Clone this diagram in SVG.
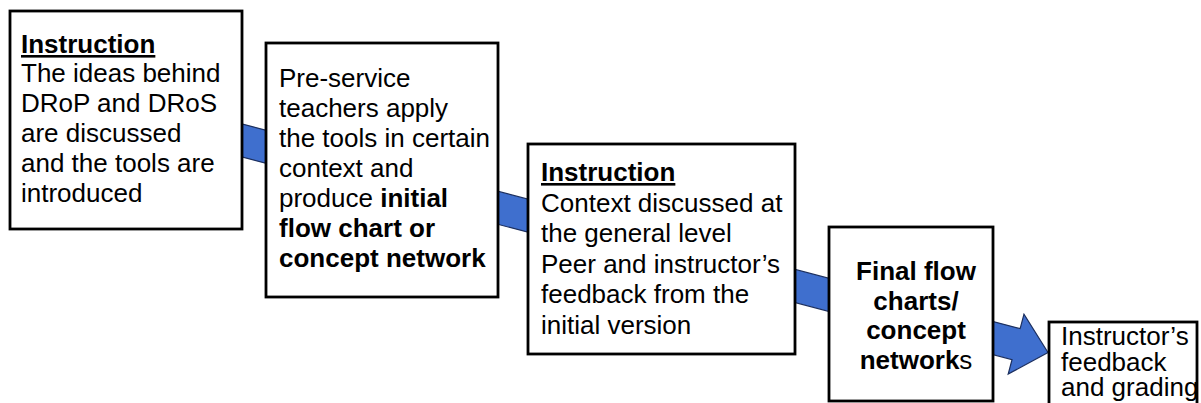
<svg xmlns="http://www.w3.org/2000/svg" width="1201" height="403" viewBox="0 0 1201 403">
<style>
.box{fill:#ffffff;stroke:#000000;stroke-width:2.8}
.t{font-family:"Liberation Sans",Arial,sans-serif;font-size:26px;fill:#000000}
.b{font-weight:bold}
.u{text-decoration:underline}
.arrow{fill:#3f6fce;stroke:#1c2f5e;stroke-width:1.2;stroke-linejoin:miter}
</style>
<rect width="1201" height="403" fill="#ffffff"/>
<g id="connectors">
<polygon class="arrow" transform="translate(1048,352.5) rotate(14.74)" points="-950,-16 -33,-16 -33,-31 0,0 -33,31 -33,16 -950,16"/>
</g>
<g id="node1">
<rect class="box" x="10" y="11" width="232" height="218"/>
<text class="t"><tspan class="b u" x="21" y="53">Instruction</tspan><tspan x="21" y="82">The ideas behind</tspan><tspan x="21" y="112">DRoP and DRoS</tspan><tspan x="21" y="142">are discussed</tspan><tspan x="21" y="172">and the tools are</tspan><tspan x="21" y="202">introduced</tspan></text>
</g>
<g id="node2">
<rect class="box" x="266" y="43" width="232" height="254"/>
<text class="t"><tspan x="279" y="87">Pre-service</tspan><tspan x="279" y="117">teachers apply</tspan><tspan x="279" y="147">the tools in certain</tspan><tspan x="279" y="177">context and</tspan><tspan x="279" y="207">produce <tspan class="b">initial</tspan></tspan><tspan class="b" x="279" y="237">flow chart or</tspan><tspan class="b" x="279" y="267">concept network</tspan></text>
</g>
<g id="node3">
<rect class="box" x="528" y="144" width="267" height="210"/>
<text class="t"><tspan class="b u" x="541" y="181">Instruction</tspan><tspan x="541" y="211.5">Context discussed at</tspan><tspan x="541" y="242">the general level</tspan><tspan x="541" y="272.5">Peer and instructor’s</tspan><tspan x="541" y="303">feedback from the</tspan><tspan x="541" y="333.5">initial version</tspan></text>
</g>
<g id="node4">
<rect class="box" x="829" y="227" width="164" height="174"/>
<text class="t" text-anchor="middle"><tspan class="b" x="916" y="280">Final flow</tspan><tspan class="b" x="916" y="309.5">charts/</tspan><tspan class="b" x="916" y="339">concept</tspan><tspan x="916" y="368.5"><tspan class="b">network</tspan>s</tspan></text>
</g>
<g id="node5">
<rect class="box" x="1049" y="322" width="148" height="100"/>
<text class="t"><tspan x="1061" y="345">Instructor’s</tspan><tspan x="1061" y="371">feedback</tspan><tspan x="1061" y="396">and grading</tspan></text>
</g>
</svg>
